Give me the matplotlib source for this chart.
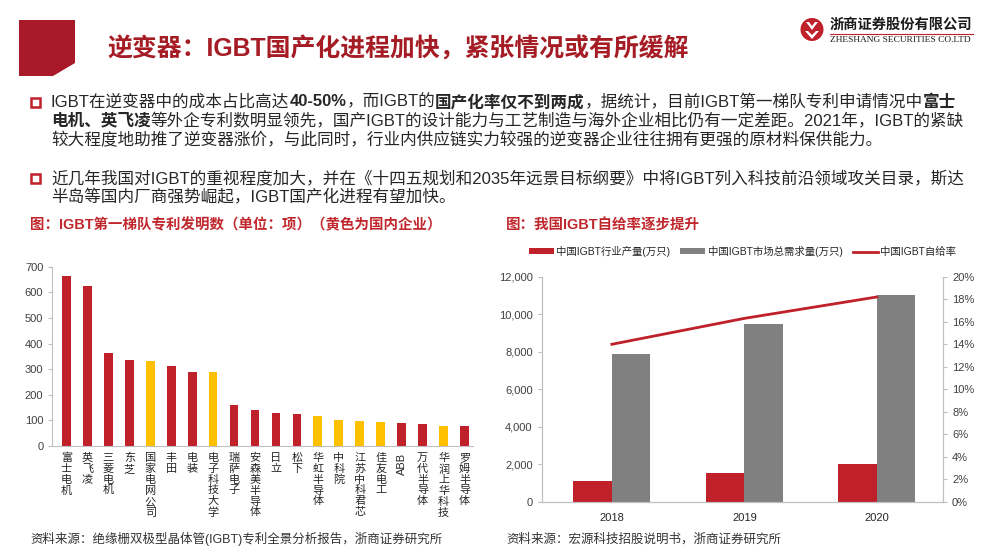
import matplotlib
matplotlib.use('Agg')
import matplotlib.pyplot as plt
from matplotlib.patches import Polygon, Rectangle, Circle

plt.rcParams['font.family'] = ['Liberation Sans', 'Noto Sans CJK SC', 'DejaVu Sans']

# ---------------- data ----------------
companies = ['富士电机', '英飞凌', '三菱电机', '东芝', '国家电网公司', '丰田', '电装',
             '电子科技大学', '瑞萨电子', '安森美半导体', '日立', '松下', '华虹半导体',
             '中科院', '江苏中科君芯', '佳友电工', 'ABB', '万代半导体', '华润上华科技', '罗姆半导体']
patents = [665, 625, 365, 334, 330, 312, 290, 288, 162, 141, 127, 125, 116,
           101, 97, 92, 88, 87, 80, 78]
domestic = [0, 0, 0, 0, 1, 0, 0, 1, 0, 0, 0, 0, 1, 1, 1, 1, 0, 0, 1, 0]

years = ['2018', '2019', '2020']
production = [1100, 1550, 2000]
demand = [7900, 9500, 11000]
self_rate = [14.0, 16.3, 18.2]

RED = '#C0202A'
YEL = '#FFC000'
GRAY = '#808080'
DARKRED = '#A51C24'
TXT = '#262626'
SPINE = '#BFBFBF'

fig = plt.figure(figsize=(10, 5.6), dpi=100)
axo = fig.add_axes([0, 0, 1, 1], zorder=-1)
axo.set_xlim(0, 1000)
axo.set_ylim(560, 0)
axo.axis('off')
R = fig.canvas.get_renderer()


def width_of(segs, size):
    w = 0
    for s, b in segs:
        t = axo.text(0, 0, s, fontsize=size, fontweight='bold' if b else 'normal')
        w += t.get_window_extent(R).width
        t.remove()
    return w


def rich(x, y, segs, size, color):
    for s, b in segs:
        t = axo.text(x, y, s, fontsize=size, fontweight='bold' if b else 'normal',
                     color=color, va='center', ha='left')
        x += t.get_window_extent(R).width


def fit(segs, target, base=10):
    return base * target / width_of(segs, base)


# ---------------- header ----------------
axo.add_patch(Polygon([(19, 20), (75, 20), (75, 63), (53, 76), (19, 76)],
                      closed=True, color='#A8192A', lw=0))
title = [('逆变器：IGBT国产化进程加快，紧张情况或有所缓解', True)]
rich(107, 49, title, fit(title, 581), DARKRED)

# logo
axo.add_patch(Circle((812, 29.5), 11.5, color='#C0202A', lw=0))
axo.add_patch(Polygon([(806, 22), (812, 30), (818, 22), (815, 22), (812, 26), (809, 22)],
                      closed=True, color='white', lw=0))
axo.add_patch(Polygon([(805, 31), (812, 39), (819, 31), (816, 31), (812, 35), (808, 31)],
                      closed=True, color='white', lw=0))
cn = [('浙商证券股份有限公司', True)]
rich(830, 25, cn, fit(cn, 143), '#1a1a1a')
axo.plot([830, 973], [33.5, 33.5], color='#C0202A', lw=0.8)
t = axo.text(830, 40.5, 'ZHESHANG SECURITIES CO.LTD', family='Liberation Serif',
             fontsize=6, va='center', ha='left', color='#1a1a1a')
w = t.get_window_extent(R).width
t.set_fontsize(6 * 143 / w)

# ---------------- bullets ----------------
lines = [
    [('IGBT在逆变器中的成本占比高达', False), ('40-50%', True), ('，而IGBT的', False),
     ('国产化率仅不到两成', True), ('，据统计，目前IGBT第一梯队专利申请情况中', False), ('富士', True)],
    [('电机、英飞凌', True), ('等外企专利数明显领先，国产IGBT的设计能力与工艺制造与海外企业相比仍有一定差距。2021年，IGBT的紧缺', False)],
    [('较大程度地助推了逆变器涨价，与此同时，行业内供应链实力较强的逆变器企业往往拥有更强的原材料保供能力。', False)],
    [('近几年我国对IGBT的重视程度加大，并在《十四五规划和2035年远景目标纲要》中将IGBT列入科技前沿领域攻关目录，斯达', False)],
    [('半岛等国内厂商强势崛起，IGBT国产化进程有望加快。', False)],
]
bsize = fit(lines[1], 913)
ys = [102, 121, 140, 178, 197]
for segs, y in zip(lines, ys):
    rich(51, y, segs, bsize, TXT)
for y in (102, 178):
    axo.add_patch(Rectangle((30.5, y - 4.5), 9, 9, fill=False, ec='#C0202A', lw=1.8))

# chart titles
lt = [('图：IGBT第一梯队专利发明数（单位：项）（黄色为国内企业）', True)]
rich(30, 225, lt, fit(lt, 410), '#C0282D')
rt = [('图：我国IGBT自给率逐步提升', True)]
rich(506, 225, rt, fit(rt, 194), '#C0282D')

# sources
axo.text(30, 539, '资料来源：绝缘栅双极型晶体管(IGBT)专利全景分析报告，浙商证券研究所',
         fontsize=9, color='#333333', va='center', ha='left')
axo.text(506, 539, '资料来源：宏源科技招股说明书，浙商证券研究所',
         fontsize=9, color='#333333', va='center', ha='left')

# ---------------- left chart ----------------
def px_axes(x0, x1, ytop, ybot):
    return fig.add_axes([x0 / 1000, 1 - ybot / 560, (x1 - x0) / 1000, (ybot - ytop) / 560])


ax1 = px_axes(51.7, 473, 266.7, 446)
xs = list(range(len(companies)))
colors = [YEL if d else RED for d in domestic]
ax1.bar(xs, patents, width=0.42, color=colors)
ax1.set_xlim(-0.7, len(companies) - 0.6)
ax1.set_ylim(0, 700)
ax1.set_yticks(range(0, 701, 100))
ax1.tick_params(axis='y', labelsize=8, colors='#404040', length=3, color=SPINE, pad=3)
ax1.tick_params(axis='x', length=0, pad=5)
ax1.set_xticks(xs)
labels = ['\n'.join(c) if c != 'ABB' else c for c in companies]
ax1.set_xticklabels(labels, fontsize=8, color='#262626', va='top', ha='center', linespacing=1.1)
for lab, c in zip(ax1.get_xticklabels(), companies):
    if c == 'ABB':
        lab.set_rotation(90)
for s in ('top', 'right'):
    ax1.spines[s].set_visible(False)
for s in ('left', 'bottom'):
    ax1.spines[s].set_color(SPINE)

# ---------------- right chart ----------------
ax2 = px_axes(541.7, 943, 276.7, 502)
xi = list(range(len(years)))
bw = 0.29
b1 = ax2.bar([x - bw / 2 for x in xi], production, width=bw, color=RED, label='中国IGBT行业产量(万只)')
b2 = ax2.bar([x + bw / 2 for x in xi], demand, width=bw, color=GRAY, label='中国IGBT市场总需求量(万只)')
ax2.set_xlim(-0.53, 2.5)
ax2.set_ylim(0, 12000)
ax2.set_yticks(range(0, 12001, 2000))
ax2.set_yticklabels([f'{v:,}' for v in range(0, 12001, 2000)])
ax2.set_xticks(xi)
ax2.set_xticklabels(years)
ax2.tick_params(axis='y', labelsize=8, colors='#404040', length=3, color=SPINE)
ax2.tick_params(axis='x', labelsize=8, colors='#262626', length=0, pad=8)
ax2.spines['top'].set_visible(False)
for s in ('left', 'bottom', 'right'):
    ax2.spines[s].set_color(SPINE)

ax3 = ax2.twinx()
l1, = ax3.plot(xi, self_rate, color=RED, lw=2, label='中国IGBT自给率')
ax3.set_ylim(0, 20)
ax3.set_yticks(range(0, 21, 2))
ax3.set_yticklabels([f'{v}%' for v in range(0, 21, 2)])
ax3.tick_params(axis='y', labelsize=8, colors='#404040', length=3, color=SPINE)
ax3.spines['top'].set_visible(False)
for s in ('left', 'bottom', 'right'):
    ax3.spines[s].set_color(SPINE)

ax2.legend(handles=[b1, b2, l1], loc='lower center', bbox_to_anchor=(0.5, 1.07), ncol=3,
           frameon=False, fontsize=7.5, handlelength=2.4, handleheight=0.45,
           columnspacing=1.0, handletextpad=0.2, labelcolor='#262626', borderaxespad=0)

fig.savefig('out.png', dpi=100)
